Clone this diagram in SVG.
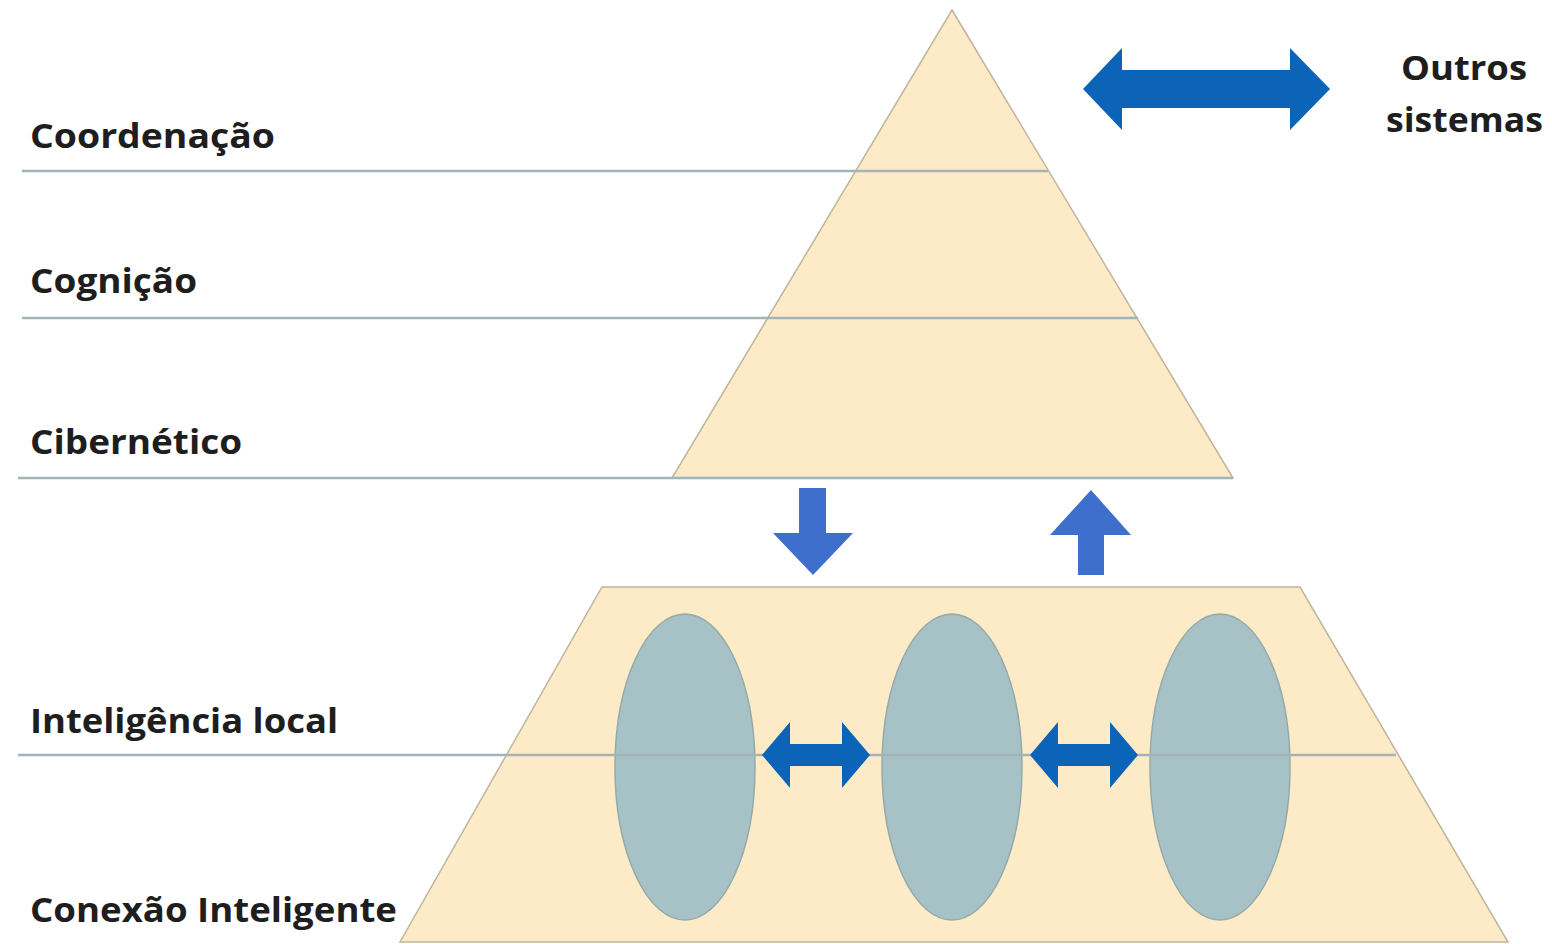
<svg xmlns="http://www.w3.org/2000/svg" width="1552" height="944" viewBox="0 0 1552 944">
<style>
.lbl{font-family:"Open Sans","Liberation Sans",sans-serif;font-weight:bold;font-size:34px;fill:#1e1e1e}
.shape{fill:#fdebc8;stroke:#bfb59c;stroke-width:1.5}
.lvl{stroke:#a3b4b8;stroke-width:2.5;fill:none}
.ell{fill:#a6c2c6;stroke:#93aaa8;stroke-width:1.5}
.arrA{fill:#0b64b8}
.arrB{fill:#3f6fcc}
</style>
<rect width="1552" height="944" fill="#ffffff"/>
<g id="pyramid-top">
<polygon class="shape" points="952,10 1233,478 672,478"/>
</g>
<g id="pyramid-bottom">
<polygon class="shape" points="602,587 1300,587 1508,942 400,942"/>
</g>
<g id="levels">
<line class="lvl" x1="22" y1="171" x2="1048" y2="171"/>
<line class="lvl" x1="22" y1="318" x2="1138" y2="318"/>
<line class="lvl" x1="18" y1="478" x2="1233" y2="478"/>
</g>
<g id="nodes">
<ellipse id="n1" class="ell" cx="685" cy="767" rx="70" ry="153"/>
<ellipse id="n2" class="ell" cx="952" cy="767" rx="70" ry="153"/>
<ellipse id="n3" class="ell" cx="1220" cy="767" rx="70" ry="153"/>
</g>
<line class="lvl" x1="18" y1="755" x2="1396" y2="755" stroke="#8fa3a6"/>
<g id="connectors">
<polygon id="c-outros" class="arrA" points="1083,89 1122,48 1122,70 1290,70 1290,48 1330,89 1290,130 1290,108 1122,108 1122,130"/>
<polygon id="c-down" class="arrB" points="799,488 826,488 826,533 853,533 813,575 773,533 799,533"/>
<polygon id="c-up" class="arrB" points="1091,490 1131,535 1104,535 1104,575 1078,575 1078,535 1050,535"/>
<polygon id="c-12" class="arrA" points="762,755 790,722 790,744 842,744 842,722 870,755 842,788 842,766 790,766 790,788"/>
<polygon id="c-23" class="arrA" points="1030,755 1058,722 1058,744 1110,744 1110,722 1138,755 1110,788 1110,766 1058,766 1058,788"/>
</g>
<g id="labels">
<text class="lbl" x="30" y="148" textLength="245" lengthAdjust="spacingAndGlyphs">Coordenação</text>
<text class="lbl" x="30" y="293" textLength="167" lengthAdjust="spacingAndGlyphs">Cognição</text>
<text class="lbl" x="30" y="454" textLength="212" lengthAdjust="spacingAndGlyphs">Cibernético</text>
<text class="lbl" x="30" y="733" textLength="308" lengthAdjust="spacingAndGlyphs">Inteligência local</text>
<text class="lbl" x="30" y="922" textLength="367" lengthAdjust="spacingAndGlyphs">Conexão Inteligente</text>
<text class="lbl" x="1401" y="80" textLength="126" lengthAdjust="spacingAndGlyphs">Outros</text>
<text class="lbl" x="1386" y="132" textLength="157" lengthAdjust="spacingAndGlyphs">sistemas</text>
</g>
</svg>
